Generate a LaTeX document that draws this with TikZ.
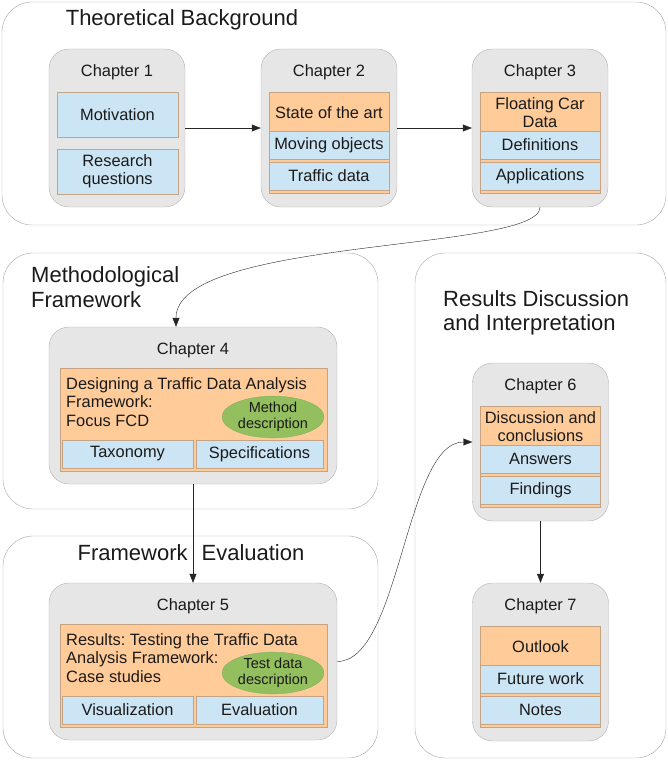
\documentclass[tikz,border=0pt]{standalone}
\usepackage{fontspec}
\setmainfont{Liberation Sans}
\usetikzlibrary{shapes.geometric,arrows.meta}
\frenchspacing

\definecolor{grpline}{HTML}{A6A6A6}
\definecolor{chapfill}{HTML}{E6E6E6}
\definecolor{chapline}{HTML}{B3B3B3}
\definecolor{itemblue}{HTML}{CCE5F5}
\definecolor{itemorange}{HTML}{FFCC99}
\definecolor{itemline}{HTML}{C4A484}
\definecolor{methfill}{HTML}{93BF5E}
\definecolor{methline}{HTML}{82B366}
\definecolor{inktext}{HTML}{1A1A1A}

\begin{document}
\begin{tikzpicture}[x=1pt, y=-1pt, text=inktext,
    group/.style={draw=grpline, rounded corners=30pt},
    grouptitle/.style={font=\fontsize{22}{24.5}\selectfont, align=left, inner sep=0pt},
    chapter/.style={draw=chapline, fill=chapfill, rounded corners=20pt, inner sep=0pt,
        minimum width=136pt, minimum height=158pt},
    widechapter/.style={chapter, minimum width=288pt, minimum height=157pt},
    label/.style={font=\fontsize{16.4}{18.5}\selectfont, align=center, inner sep=0pt},
    stack/.style={draw=itemline, fill=itemorange, inner sep=0pt,
        minimum width=120pt, minimum height=101pt},
    widestack/.style={stack, minimum width=267pt, minimum height=103pt},
    item/.style={label, draw=itemline, fill=itemblue, minimum width=120pt, minimum height=28pt},
    halfitem/.style={item, minimum width=129pt},
    method/.style={ellipse, draw=methline, fill=methfill, inner sep=0pt, align=center,
        minimum width=102pt, minimum height=38pt, font=\fontsize{14.5}{16}\selectfont},
    arr/.style={draw=black!85, -{Triangle[length=9pt,width=7pt]}}]

    \useasboundingbox (0,0) rectangle (668,776);

    % Groups
    \draw[group] (2,2) rectangle (666,225);
    \node[grouptitle] (g1) at (182,20) {Theoretical Background};
    \draw[group] (3,253) rectangle (378,509);
    \node[grouptitle, anchor=west] (g2) at (31,287) {Methodological\\Framework};
    \draw[group] (3,536) rectangle (378,758);
    \node[grouptitle] (g3) at (191,553) {Framework\hspace{14pt}Evaluation};
    \draw[group] (415,253) rectangle (666,758);
    \node[grouptitle, anchor=west] (g4) at (443,313) {Results Discussion\\and Interpretation};

    % Chapter 1
    \node[chapter] (ch1) at (117,128) {};
    \node[label] (ch1t) at (117,72) {Chapter 1};
    \node[item, minimum width=121pt, minimum height=45pt] (ch1a) at (117.5,114.5) {Motivation};
    \node[item, minimum width=121pt, minimum height=45pt] (ch1b) at (117.5,171.5) {Research\\questions};

    % Chapters with a head and two items
    \foreach \n/\cx/\top/\head/\itema/\itemb in {
        2/329/49/{State of the art}/{Moving objects}/{Traffic data},
        3/540/49/{Floating Car\\Data}/Definitions/Applications,
        6/540.5/363/{Discussion and\\conclusions}/Answers/Findings,
        7/540.5/583/Outlook/{Future work}/Notes} {
        \node[chapter] (ch\n) at (\cx,\top+79) {};
        \node[label] (ch\n t) at (\cx,\top+23) {Chapter \n};
        \node[stack] (ch\n s) at (\cx,\top+93.5) {};
        \node[label] (ch\n h) at (\cx,\top+63.5) {\head};
        \node[item] (ch\n a) at (\cx,\top+96) {\itema};
        \node[item] (ch\n b) at (\cx,\top+127) {\itemb};
    }

    % Chapters 4 and 5
    \foreach \n/\top/\body/\ell/\itema/\itemb in {
        4/327/{Designing a Traffic Data Analysis\\Framework:\\Focus FCD}/{Method\\description}/Taxonomy/Specifications,
        5/583/{Results: Testing the Traffic Data\\Analysis Framework:\\Case studies}/{Test data\\description}/Visualization/Evaluation} {
        \node[widechapter] (ch\n) at (193,\top+78.5) {};
        \node[label] (ch\n t) at (193,\top+23) {Chapter \n};
        \node[widestack] (ch\n s) at (193.5,\top+93) {};
        \node[label, align=left, anchor=west] (ch\n h) at (66,\top+75) {\body};
        \node[method] (ch\n e) at (273,\top+90) {\ell};
        \node[halfitem, minimum width=131pt] (ch\n a) at (127.5,\top+127) {\itema};
        \node[halfitem, minimum width=127pt] (ch\n b) at (259.5,\top+127) {\itemb};
    }

    % Connectors
    \draw[arr] (ch1) -- (ch2);
    \draw[arr] (ch2) -- (ch3);
    \draw[arr] (ch3.south) .. controls +(0,45) and +(0,-90) .. ([xshift=-17pt]ch4.north);
    \draw[arr] (ch4) -- (ch5);
    \draw[arr] (ch5.east) .. controls +(63,0) and +(-67,0) .. (ch6.west);
    \draw[arr] (ch6) -- (ch7);
\end{tikzpicture}
\end{document}
